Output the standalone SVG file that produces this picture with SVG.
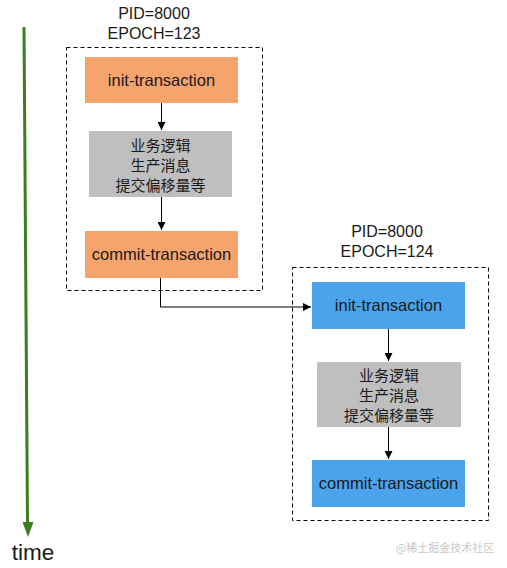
<svg xmlns="http://www.w3.org/2000/svg" width="507" height="568" viewBox="0 0 507 568">
<style>
.t{font-family:"Liberation Sans","Noto Sans CJK SC",sans-serif;fill:#1a1a1a;text-anchor:middle}
.lbl{font-size:16px}
.box{font-size:16.5px}
.cn{font-size:15px;font-family:"Noto Sans CJK SC","Liberation Sans",sans-serif}
.frame{fill:none;stroke:#000;stroke-width:1;stroke-dasharray:4 3}
.or{fill:#F6A46E}
.bl{fill:#4BA3EC}
.gr{fill:#BFBFBF}
.c{fill:none;stroke:#000;stroke-width:1}
</style>
<defs>
<marker id="ah" viewBox="0 0 10 10" refX="10" refY="5" markerWidth="8" markerHeight="8" markerUnits="userSpaceOnUse" orient="auto"><path d="M0,0L10,5L0,10z" fill="#000"/></marker>
</defs>
<rect width="507" height="568" fill="#fff"/>
<g id="timeline">
<line x1="24" y1="27" x2="27.5" y2="525" stroke="#3C7D1E" stroke-width="3"/>
<path d="M22.5,522L33.5,522L28,537z" fill="#3C7D1E"/>
<text class="t" x="33" y="560" style="font-size:22.5px">time</text>
</g>
<g id="group1">
<text class="t lbl" x="154" y="19">PID=8000</text>
<text class="t lbl" x="154" y="39">EPOCH=123</text>
<rect class="frame" x="66.5" y="47.5" width="196" height="243"/>
</g>
<g id="init1"><rect class="or" x="85" y="57" width="153" height="46"/><text class="t box" x="161.5" y="86">init-transaction</text></g>
<g id="biz1"><rect class="gr" x="89" y="131" width="143" height="66"/>
<text class="t cn" x="160.5" y="151">业务逻辑</text><text class="t cn" x="160.5" y="171">生产消息</text><text class="t cn" x="160.5" y="191">提交偏移量等</text></g>
<g id="commit1"><rect class="or" x="85" y="231" width="153" height="47"/><text class="t box" x="161.5" y="260">commit-transaction</text></g>
<g id="group2">
<text class="t lbl" x="387" y="237">PID=8000</text>
<text class="t lbl" x="387" y="257">EPOCH=124</text>
<rect class="frame" x="292.5" y="267.5" width="196" height="253"/>
</g>
<g id="init2"><rect class="bl" x="312" y="282" width="153" height="47"/><text class="t box" x="388.5" y="311">init-transaction</text></g>
<g id="biz2"><rect class="gr" x="317" y="362" width="144" height="65"/>
<text class="t cn" x="389" y="381">业务逻辑</text><text class="t cn" x="389" y="401">生产消息</text><text class="t cn" x="389" y="421">提交偏移量等</text></g>
<g id="commit2"><rect class="bl" x="312" y="460" width="153" height="47"/><text class="t box" x="388.5" y="489">commit-transaction</text></g>
<g id="connectors">
<line class="c" x1="161.5" y1="103" x2="161.5" y2="130" marker-end="url(#ah)"/>
<line class="c" x1="161.5" y1="197" x2="161.5" y2="230" marker-end="url(#ah)"/>
<path class="c" d="M160.5,278V307H311" marker-end="url(#ah)" stroke="#333"/>
<line class="c" x1="388.5" y1="329" x2="388.5" y2="361" marker-end="url(#ah)"/>
<line class="c" x1="388.5" y1="427" x2="388.5" y2="459" marker-end="url(#ah)"/>
</g>
<text x="445" y="552" style="font-family:'Noto Sans CJK SC',sans-serif;font-size:11px;fill:#c8c8c8;text-anchor:middle">@稀土掘金技术社区</text>
</svg>
